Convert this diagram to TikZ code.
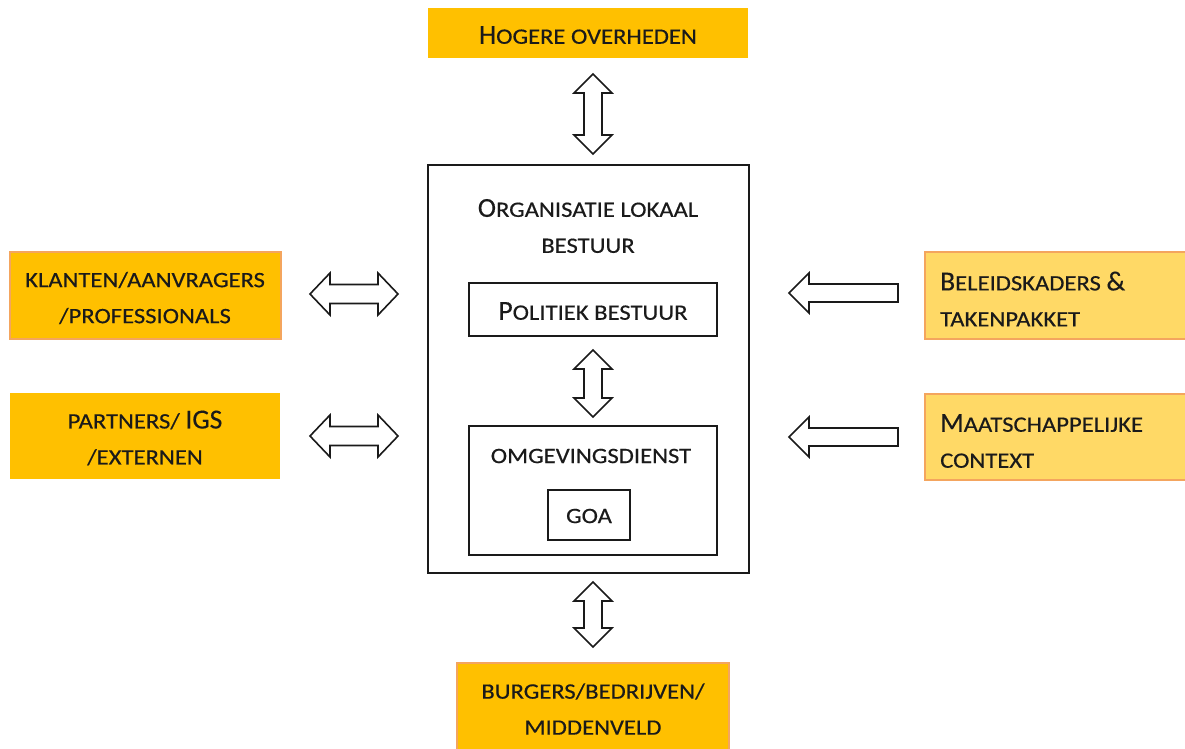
\documentclass[tikz,border=0pt]{standalone}
\usepackage{fontspec}
\setmainfont{Carlito}
\newfontfamily\calfont[FakeBold=0.25]{Carlito}
\newfontfamily\calscfont[FakeStretch=1.12,FakeBold=0.4]{Carlito}
\definecolor{gold}{HTML}{FFC000}
\definecolor{lightgold}{HTML}{FFD966}
\definecolor{orangeline}{HTML}{F4A55E}
\definecolor{ink}{HTML}{1A1A1A}
\newcommand\Bg[1]{{\calfont\fontsize{27.5}{36}\selectfont #1}}
\newcommand\vdarrow[3]{% cx, top, bottom
  \draw[blockarrow] (#1,#2) -- (#1+19,#2+19) -- (#1+9,#2+19) -- (#1+9,#3-19) -- (#1+19,#3-19)
   -- (#1,#3) -- (#1-19,#3-19) -- (#1-9,#3-19) -- (#1-9,#2+19) -- (#1-19,#2+19) -- cycle;}
\newcommand\hdarrow[3]{% cy, left, right
  \draw[blockarrow] (#2,#1) -- (#2+20,#1-21) -- (#2+20,#1-9.5) -- (#3-20,#1-9.5) -- (#3-20,#1-21)
   -- (#3,#1) -- (#3-20,#1+21) -- (#3-20,#1+9.5) -- (#2+20,#1+9.5) -- (#2+20,#1+21) -- cycle;}
\newcommand\hlarrow[3]{% cy, left(tip), right
  \draw[blockarrow] (#2,#1) -- (#2+20,#1-20) -- (#2+20,#1-9) -- (#3,#1-9) -- (#3,#1+9)
   -- (#2+20,#1+9) -- (#2+20,#1+20) -- cycle;}
\tikzset{
  blockarrow/.style={draw=ink, line width=1.6pt, fill=white, line join=miter},
  txt/.style={text=ink, inner sep=0pt, font=\calscfont\fontsize{22}{36}\selectfont},
  goldbox/.style={fill=gold, draw=none},
  goldedge/.style={fill=gold, draw=orangeline, line width=1.2pt},
  lightbox/.style={fill=lightgold, draw=orangeline, line width=1.2pt},
  plainbox/.style={draw=ink, line width=1.6pt, fill=white}
}
\begin{document}
\begin{tikzpicture}[x=1pt,y=-1pt]
\useasboundingbox (0,0) rectangle (1185,748);
\clip (0,0) rectangle (1185,748);
% outer boxes
\draw[goldbox] (428,8) rectangle (748,58);
\node[txt] (hog) at (588,35) {\Bg{H}OGERE OVERHEDEN};
\draw[goldedge] (10,252) rectangle (281,339);
\node[txt, align=center] (kla) at (145,298) {KLANTEN/AANVRAGERS\\/PROFESSIONALS};
\draw[goldbox] (10,393) rectangle (280,479);
\node[txt, align=center] (par) at (145,438) {PARTNERS/ \Bg{IGS}\\/EXTERNEN};
\draw[lightbox] (925,252) rectangle (1190,339);
\node[txt, align=left, anchor=west] (bel) at (940,299) {\Bg{B}ELEIDSKADERS \Bg{\&}\\TAKENPAKKET};
\draw[lightbox] (925,394) rectangle (1190,480);
\node[txt, align=left, anchor=west] (maa) at (940,441) {\Bg{M}AATSCHAPPELIJKE\\CONTEXT};
\draw[goldedge] (457,663) rectangle (729,760);
\node[txt, align=center] (bur) at (593,709) {BURGERS/BEDRIJVEN/\\MIDDENVELD};
% main box
\draw[plainbox] (428,165) rectangle (749,573);
\node[txt, align=center] (org) at (588,226) {\Bg{O}RGANISATIE LOKAAL\\BESTUUR};
\draw[plainbox] (469,283) rectangle (717,336);
\node[txt] (pol) at (593,311) {\Bg{P}OLITIEK BESTUUR};
\draw[plainbox] (469,426) rectangle (717,555);
\node[txt] (omg) at (591,456) {OMGEVINGSDIENST};
\draw[plainbox] (548,490) rectangle (630,540);
\node[txt] (goa) at (589,516) {GOA};
% arrows
\vdarrow{593}{74}{154}
\vdarrow{593}{350}{417}
\vdarrow{593}{582}{647}
\hdarrow{294}{310}{398}
\hdarrow{436}{310}{398}
\hlarrow{293}{789}{898}
\hlarrow{437}{789}{898}
\end{tikzpicture}
\end{document}
